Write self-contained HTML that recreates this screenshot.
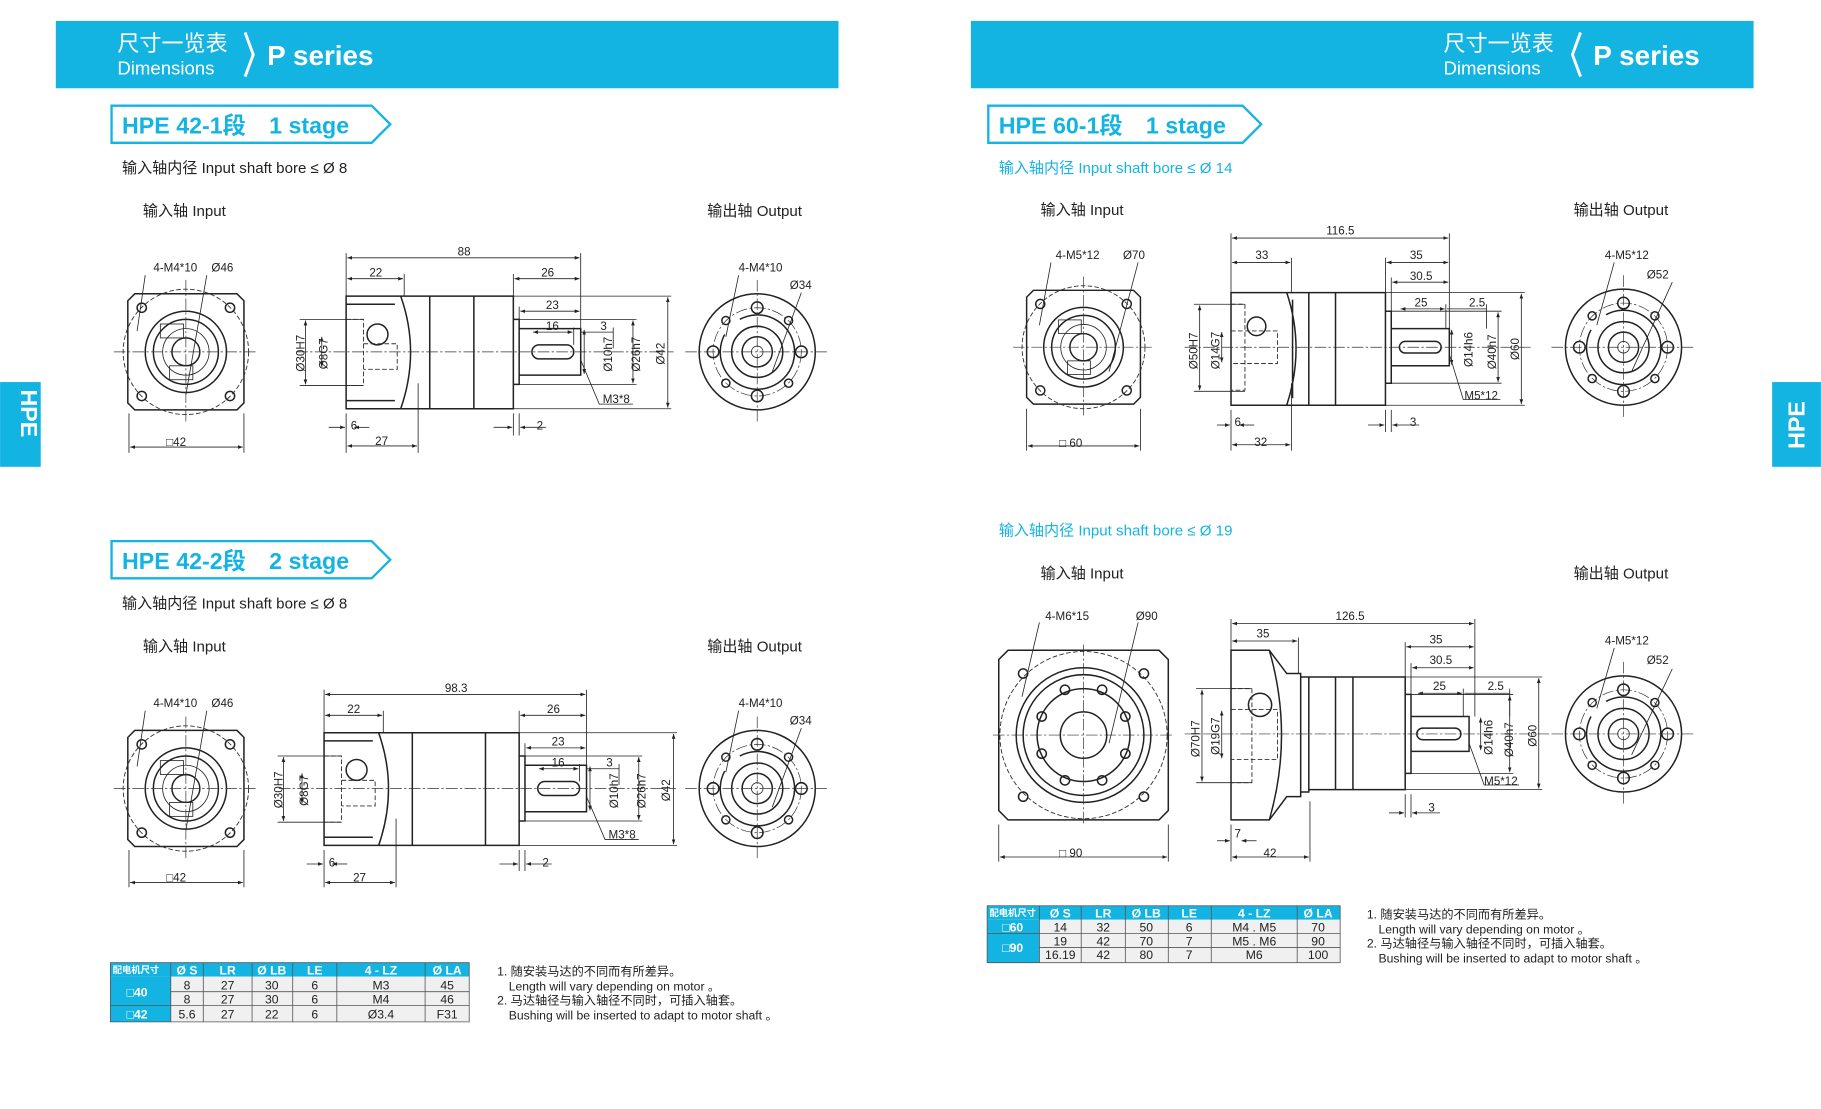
<!DOCTYPE html>
<html><head><meta charset="utf-8"><style>
html,body{margin:0;padding:0;background:#fff;}
svg{display:block;}
text{font-family:"Liberation Sans","Noto Sans CJK SC",sans-serif;fill:#222;}
.d{font-size:10px;}
.hd{fill:#fff;}
.ln{stroke:#222;stroke-width:1.3;fill:none;}
.th{stroke:#222;stroke-width:0.7;fill:none;}
.cl{stroke:#333;stroke-width:0.6;fill:none;stroke-dasharray:10 2 2 2;}
.ds{stroke:#333;stroke-width:0.8;fill:none;stroke-dasharray:4 2;}
</style></head><body>
<svg width="1821" height="1109" viewBox="0 0 1568 955" xmlns="http://www.w3.org/2000/svg">
<defs>
<marker id="a" viewBox="0 0 8 6" refX="8" refY="3" markerWidth="6" markerHeight="5" orient="auto-start-reverse"><path d="M0,0L8,3L0,6z" fill="#222"/></marker>
<symbol id="inp" viewBox="-50 -50 100 100" overflow="visible">
<path class="ln" d="M-44,-50H44L50,-44V44L44,50H-44L-50,44V-44Z"/>
<circle class="ds" r="54"/>
<circle class="ln" r="35"/><circle class="ln" r="28"/><circle class="ln" r="12"/>
<circle class="th" r="20"/>
<g class="ln"><circle cx="-38" cy="-38" r="4"/><circle cx="38" cy="-38" r="4"/><circle cx="-38" cy="38" r="4"/><circle cx="38" cy="38" r="4"/></g>
<rect class="th" x="-22" y="-24" width="20" height="12"/><rect class="th" x="-14" y="12" width="20" height="12"/>
<path class="cl" d="M-62,0H62M0,-62V62"/>
</symbol>
<symbol id="out" viewBox="-50 -50 100 100" overflow="visible">
<circle class="ln" r="50"/><circle class="cl" r="38"/>
<circle class="ln" r="22"/><circle class="ln" r="13"/><circle class="th" r="5"/>
<path class="ln" d="M-28,-15A32,32 0 1,0 -15,-28"/>
<g class="ln"><circle cx="-38" cy="0" r="5"/><circle cx="38" cy="0" r="5"/><circle cx="0" cy="-38" r="5"/><circle cx="0" cy="38" r="5"/>
<circle cx="-27" cy="-27" r="3.5"/><circle cx="27" cy="-27" r="3.5"/><circle cx="-27" cy="27" r="3.5"/><circle cx="27" cy="27" r="3.5"/></g>
<path class="cl" d="M-62,0H62M0,-62V62"/>
</symbol>
</defs>

<!-- headers -->
<rect x="48" y="18" width="674" height="58" fill="#14b4e2"/>
<text x="101" y="44" class="hd" font-size="19">尺寸一览表</text>
<text x="101" y="64" class="hd" font-size="16">Dimensions</text>
<path d="M211,28L218,47L211,66" stroke="#fff" stroke-width="2.5" fill="none"/>
<text x="230" y="56" class="hd" font-size="24" font-weight="bold">P series</text>
<rect x="836" y="18" width="674" height="58" fill="#14b4e2"/>
<text x="1243" y="44" class="hd" font-size="19">尺寸一览表</text>
<text x="1243" y="64" class="hd" font-size="16">Dimensions</text>
<path d="M1361,28L1354,47L1361,66" stroke="#fff" stroke-width="2.5" fill="none"/>
<text x="1372" y="56" class="hd" font-size="24" font-weight="bold">P series</text>
<rect x="0" y="329" width="35" height="73" fill="#14b4e2"/>
<text x="8" y="366" class="hd" font-size="20" font-weight="bold" transform="rotate(90 18 366)" text-anchor="middle">HPE</text>
<rect x="1526" y="329" width="42" height="73" fill="#14b4e2"/>
<text x="1547" y="366" class="hd" font-size="20" font-weight="bold" transform="rotate(-90 1547 366)" text-anchor="middle" dy="7">HPE</text>

<!-- section labels -->
<g fill="none" stroke="#14b4e2" stroke-width="2">
<path d="M96,91H320L336,107L320,123H96Z"/>
<path d="M96,466H320L336,482L320,498H96Z"/>
<path d="M851,91H1070L1086,107L1070,123H851Z"/>
</g>
<g font-size="20" font-weight="bold" style="fill:#14b4e2">
<text x="105" y="115" style="fill:#14b4e2">HPE 42-1段　1 stage</text>
<text x="105" y="490" style="fill:#14b4e2">HPE 42-2段　2 stage</text>
<text x="860" y="115" style="fill:#14b4e2">HPE 60-1段　1 stage</text>
</g>
<g font-size="13">
<text x="105" y="149">输入轴内径 Input shaft bore ≤ Ø 8</text>
<text x="123" y="186">输入轴  Input</text><text x="609" y="186">输出轴  Output</text>
<text x="105" y="524">输入轴内径 Input shaft bore ≤ Ø 8</text>
<text x="123" y="561">输入轴  Input</text><text x="609" y="561">输出轴  Output</text>
<text x="860" y="149" style="fill:#14b4e2">输入轴内径 Input shaft bore ≤ Ø 14</text>
<text x="896" y="185">输入轴  Input</text><text x="1355" y="185">输出轴  Output</text>
<text x="860" y="461" style="fill:#14b4e2">输入轴内径 Input shaft bore ≤ Ø 19</text>
<text x="896" y="498">输入轴  Input</text><text x="1355" y="498">输出轴  Output</text>
</g>

<!-- ===== Section 1 ===== -->
<use href="#inp" x="110" y="253" width="100" height="100"/>
<use href="#out" x="602" y="253" width="100" height="100"/>
<g class="th"><path d="M111,356V390M210,356V390"/><path d="M112,385H209" marker-start="url(#a)" marker-end="url(#a)"/>
<path d="M125,237L118,285M178,237L160,340"/><path d="M636,237L625,290M690,252L665,320"/></g>
<text class="d" x="143" y="384">□42</text><text class="d" x="132" y="234">4-M4*10</text><text class="d" x="182" y="234">Ø46</text>
<text class="d" x="636" y="234">4-M4*10</text><text class="d" x="680" y="249">Ø34</text>
<path class="ln" d="M298,255H442V352H298Z M345,255Q362,303 345,352 M370,255V352 M408,255V352 M442,275H447V331H442 M447,283H500V323H447"/>
<path class="ln" d="M298,262H340M298,345H340"/>
<rect class="ln" x="458" y="297" width="36" height="12" rx="6"/>
<circle class="ln" cx="325" cy="288" r="9"/>
<path class="ds" d="M298,275H313V332H298M313,296H342V318H313"/>
<path class="cl" d="M255,303H580"/>
<g class="th">
<path d="M298,218V255M500,218V283M348,236V255M442,236V255M447,264V275M494,282V297M528,282V300"/>
<path d="M299,222H499" marker-start="url(#a)" marker-end="url(#a)"/><path d="M299,240H347" marker-start="url(#a)" marker-end="url(#a)"/><path d="M443,240H499" marker-start="url(#a)" marker-end="url(#a)"/>
<path d="M448,268H499" marker-start="url(#a)" marker-end="url(#a)"/><path d="M459,286H493" marker-start="url(#a)" marker-end="url(#a)"/><path d="M500,286H528"/>
<path d="M263,276V331" marker-start="url(#a)" marker-end="url(#a)"/><path d="M277,290V316" marker-start="url(#a)" marker-end="url(#a)"/>
<path d="M258,275H313M258,332H313"/>
<path d="M503,284V322" marker-start="url(#a)" marker-end="url(#a)"/><path d="M545,276V330" marker-start="url(#a)" marker-end="url(#a)"/><path d="M575,256V351" marker-start="url(#a)" marker-end="url(#a)"/>
<path d="M447,275H548M447,331H548M442,255H578M442,352H578"/>
<path d="M500,310L516,348H545"/>
<path d="M298,356V390M360,330V390M442,356V375M447,356V375"/>
<path d="M283,368H297" marker-end="url(#a)"/><path d="M318,368H305" marker-end="url(#a)"/><path d="M299,384H359" marker-start="url(#a)" marker-end="url(#a)"/>
<path d="M425,368H441" marker-end="url(#a)"/><path d="M470,368H448" marker-end="url(#a)"/>
</g>
<g class="d"><text x="394" y="220">88</text><text x="318" y="238">22</text><text x="466" y="238">26</text><text x="470" y="266">23</text><text x="470" y="284">16</text><text x="517" y="284">3</text>
<text x="519" y="347">M3*8</text><text x="302" y="370">6</text><text x="323" y="383">27</text><text x="462" y="370">2</text>
<text transform="translate(262,320) rotate(-90)">Ø30H7</text><text transform="translate(282,318) rotate(-90)">Ø8G7</text>
<text transform="translate(527,320) rotate(-90)">Ø10h7</text><text transform="translate(551,320) rotate(-90)">Ø26h7</text><text transform="translate(572,314) rotate(-90)">Ø42</text></g>

<!-- ===== Section 2 ===== -->
<use href="#inp" x="110" y="629" width="100" height="100"/>
<use href="#out" x="602" y="629" width="100" height="100"/>
<g class="th"><path d="M111,732V764M210,732V764"/><path d="M112,760H209" marker-start="url(#a)" marker-end="url(#a)"/>
<path d="M125,612L118,660M178,612L160,715"/><path d="M636,612L625,665M690,627L665,695"/></g>
<text class="d" x="143" y="759">□42</text><text class="d" x="132" y="609">4-M4*10</text><text class="d" x="182" y="609">Ø46</text>
<text class="d" x="636" y="609">4-M4*10</text><text class="d" x="680" y="624">Ø34</text>
<path class="ln" d="M279,631H447V728H279Z M326,631Q343,679 326,728 M355,631V728 M418,631V728 M447,651H452V707H447 M452,659H505V699H452"/>
<path class="ln" d="M279,638H321M279,721H321"/>
<rect class="ln" x="463" y="673" width="36" height="12" rx="6"/>
<circle class="ln" cx="307" cy="663" r="9"/>
<path class="ds" d="M279,651H294V708H279M294,672H323V694H294"/>
<path class="cl" d="M240,679H582"/>
<g class="th">
<path d="M279,594V631M505,594V659M330,612V631M447,612V631M452,640V651M499,658V673M533,658V676"/>
<path d="M280,598H504" marker-start="url(#a)" marker-end="url(#a)"/><path d="M280,616H329" marker-start="url(#a)" marker-end="url(#a)"/><path d="M448,616H504" marker-start="url(#a)" marker-end="url(#a)"/>
<path d="M453,644H504" marker-start="url(#a)" marker-end="url(#a)"/><path d="M464,662H498" marker-start="url(#a)" marker-end="url(#a)"/><path d="M505,662H533"/>
<path d="M244,652V707" marker-start="url(#a)" marker-end="url(#a)"/><path d="M260,666V692" marker-start="url(#a)" marker-end="url(#a)"/>
<path d="M239,651H294M239,708H294"/>
<path d="M508,660V698" marker-start="url(#a)" marker-end="url(#a)"/><path d="M550,652V706" marker-start="url(#a)" marker-end="url(#a)"/><path d="M580,632V727" marker-start="url(#a)" marker-end="url(#a)"/>
<path d="M452,651H553M452,707H553M447,631H583M447,728H583"/>
<path d="M505,686L521,723H550"/>
<path d="M279,732V764M341,705V764M447,732V750M452,732V750"/>
<path d="M264,744H278" marker-end="url(#a)"/><path d="M299,744H286" marker-end="url(#a)"/><path d="M280,760H340" marker-start="url(#a)" marker-end="url(#a)"/>
<path d="M430,744H446" marker-end="url(#a)"/><path d="M475,744H453" marker-end="url(#a)"/>
</g>
<g class="d"><text x="383" y="596">98.3</text><text x="299" y="614">22</text><text x="471" y="614">26</text><text x="475" y="642">23</text><text x="475" y="660">16</text><text x="522" y="660">3</text>
<text x="524" y="722">M3*8</text><text x="283" y="746">6</text><text x="304" y="759">27</text><text x="467" y="746">2</text>
<text transform="translate(243,696) rotate(-90)">Ø30H7</text><text transform="translate(265,694) rotate(-90)">Ø8G7</text>
<text transform="translate(532,696) rotate(-90)">Ø10h7</text><text transform="translate(556,696) rotate(-90)">Ø26h7</text><text transform="translate(577,690) rotate(-90)">Ø42</text></g>

<!-- ===== Section 3 ===== -->
<use href="#inp" x="884" y="250" width="98" height="98"/>
<use href="#out" x="1348" y="249" width="100" height="100"/>
<g class="th"><path d="M884,352V388M982,352V388"/><path d="M885,384H981" marker-start="url(#a)" marker-end="url(#a)"/>
<path d="M905,226L895,280M980,226L955,320"/><path d="M1390,226L1375,280M1440,243L1405,320"/></g>
<text class="d" x="912" y="385">□ 60</text><text class="d" x="909" y="223">4-M5*12</text><text class="d" x="967" y="223">Ø70</text>
<text class="d" x="1382" y="223">4-M5*12</text><text class="d" x="1418" y="240">Ø52</text>
<path class="ln" d="M1060,252H1193V349H1060Z M1108,252Q1124,300 1108,349 M1113,258V343 M1127,252V349 M1150,252V349 M1193,268H1198V330H1193 M1198,283H1248V315H1198"/>
<rect class="ln" x="1205" y="294" width="36" height="10" rx="5"/>
<circle class="ln" cx="1082" cy="281" r="8"/>
<path class="ds" d="M1060,262H1072V336H1060M1060,285H1100V313H1060"/>
<path class="cl" d="M1020,299H1318"/>
<g class="th">
<path d="M1060,201V252M1248,201V283M1112,222V252M1193,222V268M1198,239V268M1245,262V283M1280,262V283"/>
<path d="M1061,205H1247" marker-start="url(#a)" marker-end="url(#a)"/><path d="M1061,226H1111" marker-start="url(#a)" marker-end="url(#a)"/><path d="M1194,226H1247" marker-start="url(#a)" marker-end="url(#a)"/>
<path d="M1199,243H1247" marker-start="url(#a)" marker-end="url(#a)"/><path d="M1206,266H1244" marker-start="url(#a)" marker-end="url(#a)"/><path d="M1246,266H1280"/>
<path d="M1033,263V336" marker-start="url(#a)" marker-end="url(#a)"/><path d="M1052,286V312" marker-start="url(#a)" marker-end="url(#a)"/>
<path d="M1028,262H1072M1028,337H1072"/>
<path d="M1250,284V314" marker-start="url(#a)" marker-end="url(#a)"/><path d="M1290,269V329" marker-start="url(#a)" marker-end="url(#a)"/><path d="M1310,253V348" marker-start="url(#a)" marker-end="url(#a)"/>
<path d="M1198,268H1293M1198,330H1293M1193,252H1313M1193,349H1313"/>
<path d="M1248,305L1260,344H1292"/>
<path d="M1060,353V388M1112,330V388M1193,353V372M1198,353V372"/>
<path d="M1048,366H1059" marker-end="url(#a)"/><path d="M1080,366H1067" marker-end="url(#a)"/><path d="M1061,383H1111" marker-start="url(#a)" marker-end="url(#a)"/>
<path d="M1178,366H1192" marker-end="url(#a)"/><path d="M1222,366H1199" marker-end="url(#a)"/>
</g>
<g class="d"><text x="1142" y="202">116.5</text><text x="1081" y="223">33</text><text x="1214" y="223">35</text><text x="1214" y="241">30.5</text><text x="1218" y="264">25</text><text x="1265" y="264">2.5</text>
<text x="1261" y="344">M5*12</text><text x="1063" y="367">6</text><text x="1080" y="384">32</text><text x="1214" y="367">3</text>
<text transform="translate(1031,318) rotate(-90)">Ø50H7</text><text transform="translate(1050,318) rotate(-90)">Ø14G7</text>
<text transform="translate(1268,316) rotate(-90)">Ø14h6</text><text transform="translate(1288,318) rotate(-90)">Ø40h7</text><text transform="translate(1308,310) rotate(-90)">Ø60</text></g>

<!-- ===== Section 4 ===== -->
<g>
<path class="ln" d="M868,560H998L1006,568V698L998,706H868L860,698V568Z"/>
<circle class="ds" cx="933" cy="633" r="72"/>
<circle class="ln" cx="933" cy="633" r="58"/><circle class="ln" cx="933" cy="633" r="52"/><circle class="ln" cx="933" cy="633" r="40"/><circle class="ln" cx="933" cy="633" r="20"/>
<g class="ln"><circle cx="881" cy="580" r="4"/><circle cx="985" cy="580" r="4"/><circle cx="881" cy="686" r="4"/><circle cx="985" cy="686" r="4"/>
<circle cx="917" cy="594" r="4"/><circle cx="949" cy="594" r="4"/><circle cx="917" cy="672" r="4"/><circle cx="949" cy="672" r="4"/><circle cx="897" cy="617" r="4"/><circle cx="969" cy="617" r="4"/><circle cx="897" cy="649" r="4"/><circle cx="969" cy="649" r="4"/></g>
<path class="cl" d="M855,633H1010M933,555V710"/>
</g>
<use href="#out" x="1348" y="582" width="100" height="100"/>
<g class="th"><path d="M860,710V742M1006,710V742"/><path d="M861,738H1005" marker-start="url(#a)" marker-end="url(#a)"/>
<path d="M895,536L880,600M980,536L955,640"/><path d="M1390,558L1375,610M1440,576L1405,650"/></g>
<text class="d" x="912" y="738">□ 90</text><text class="d" x="900" y="534">4-M6*15</text><text class="d" x="978" y="534">Ø90</text>
<text class="d" x="1382" y="555">4-M5*12</text><text class="d" x="1418" y="572">Ø52</text>
<path class="ln" d="M1060,560H1093L1108,580H1120V686H1108L1093,706H1060Z M1093,560Q1114,633 1093,706 M1120,583H1127V682H1120 M1127,583H1210V680H1127 M1150,583V680 M1165,583V680 M1210,598H1215V666H1210 M1215,617H1265V647H1215"/>
<rect class="ln" x="1220" y="627" width="38" height="10" rx="5"/>
<circle class="ln" cx="1085" cy="607" r="10"/>
<path class="ds" d="M1060,593H1078V674H1060M1060,611H1100V654H1060"/>
<path class="cl" d="M1020,632H1335"/>
<g class="th">
<path d="M1060,533V560M1270,533V617M1118,549V580M1210,553V598M1215,571V598M1260,593V617M1300,593V617"/>
<path d="M1061,537H1269" marker-start="url(#a)" marker-end="url(#a)"/><path d="M1061,552H1117" marker-start="url(#a)" marker-end="url(#a)"/><path d="M1211,557H1269" marker-start="url(#a)" marker-end="url(#a)"/>
<path d="M1216,575H1269" marker-start="url(#a)" marker-end="url(#a)"/><path d="M1221,597H1259" marker-start="url(#a)" marker-end="url(#a)"/><path d="M1261,597H1300"/>
<path d="M1035,594V673" marker-start="url(#a)" marker-end="url(#a)"/><path d="M1052,612V653" marker-start="url(#a)" marker-end="url(#a)"/>
<path d="M1030,593H1078M1030,674H1078"/>
<path d="M1275,618V646" marker-start="url(#a)" marker-end="url(#a)"/><path d="M1300,599V665" marker-start="url(#a)" marker-end="url(#a)"/><path d="M1325,584V679" marker-start="url(#a)" marker-end="url(#a)"/>
<path d="M1215,598H1303M1215,666H1303M1210,583H1328M1210,680H1328"/>
<path d="M1265,640L1278,676H1308"/>
<path d="M1060,710V742M1128,690V742M1210,684V704M1215,684V704"/>
<path d="M1048,724H1059" marker-end="url(#a)"/><path d="M1082,724H1069" marker-end="url(#a)"/><path d="M1061,738H1127" marker-start="url(#a)" marker-end="url(#a)"/>
<path d="M1196,700H1209" marker-end="url(#a)"/><path d="M1240,700H1216" marker-end="url(#a)"/>
</g>
<g class="d"><text x="1150" y="534">126.5</text><text x="1082" y="549">35</text><text x="1231" y="554">35</text><text x="1231" y="572">30.5</text><text x="1234" y="594">25</text><text x="1281" y="594">2.5</text>
<text x="1278" y="676">M5*12</text><text x="1063" y="721">7</text><text x="1088" y="738">42</text><text x="1230" y="699">3</text>
<text transform="translate(1033,652) rotate(-90)">Ø70H7</text><text transform="translate(1050,650) rotate(-90)">Ø19G7</text>
<text transform="translate(1285,650) rotate(-90)">Ø14h6</text><text transform="translate(1303,652) rotate(-90)">Ø40h7</text><text transform="translate(1323,643) rotate(-90)">Ø60</text></g>

<!-- ===== Left table ===== -->
<g font-size="10.5" text-anchor="middle">
<rect x="95" y="829" width="309" height="12" fill="#14b4e2"/>
<rect x="95" y="841" width="52" height="39" fill="#14b4e2"/>
<rect x="147" y="841" width="257" height="39" fill="#f0f0f0"/>
<g class="th" style="stroke:#555"><path d="M95,829H404V880H95Z M147,854H404M95,866H404M147,829V880M175,829V880M217,829V880M252,829V880M290,829V880M366,829V880"/></g>
<g class="hd" style="font-weight:bold"><text x="117" y="838" font-size="8" class="hd">配电机尺寸</text><text x="161" y="839" class="hd">Ø S</text><text x="196" y="839" class="hd">LR</text><text x="234" y="839" class="hd">Ø LB</text><text x="271" y="839" class="hd">LE</text><text x="328" y="839" class="hd">4 - LZ</text><text x="385" y="839" class="hd">Ø LA</text>
<text x="118" y="858" class="hd">□40</text><text x="118" y="877" class="hd">□42</text></g>
<text x="161" y="852">8</text><text x="196" y="852">27</text><text x="234" y="852">30</text><text x="271" y="852">6</text><text x="328" y="852">M3</text><text x="385" y="852">45</text>
<text x="161" y="864">8</text><text x="196" y="864">27</text><text x="234" y="864">30</text><text x="271" y="864">6</text><text x="328" y="864">M4</text><text x="385" y="864">46</text>
<text x="161" y="877">5.6</text><text x="196" y="877">27</text><text x="234" y="877">22</text><text x="271" y="877">6</text><text x="328" y="877">Ø3.4</text><text x="385" y="877">F31</text>
</g>
<g font-size="10.5"><text x="428" y="840">1. 随安装马达的不同而有所差异。</text><text x="438" y="853">Length will vary depending on motor 。</text>
<text x="428" y="865">2. 马达轴径与输入轴径不同时，可插入轴套。</text><text x="438" y="878">Bushing will be inserted to adapt to motor shaft 。</text></g>

<!-- ===== Right table ===== -->
<g font-size="10.5" text-anchor="middle">
<rect x="850" y="780" width="304" height="12" fill="#14b4e2"/>
<rect x="850" y="792" width="45" height="37" fill="#14b4e2"/>
<rect x="895" y="792" width="259" height="37" fill="#f0f0f0"/>
<g class="th" style="stroke:#555"><path d="M850,780H1154V829H850Z M850,804H1154M895,816H1154M895,780V829M931,780V829M969,780V829M1006,780V829M1043,780V829M1117,780V829"/></g>
<g style="font-weight:bold"><text x="872" y="789" font-size="8" class="hd">配电机尺寸</text><text x="913" y="790" class="hd">Ø S</text><text x="950" y="790" class="hd">LR</text><text x="987" y="790" class="hd">Ø LB</text><text x="1024" y="790" class="hd">LE</text><text x="1080" y="790" class="hd">4 - LZ</text><text x="1135" y="790" class="hd">Ø LA</text>
<text x="872" y="802" class="hd">□60</text><text x="872" y="820" class="hd">□90</text></g>
<text x="913" y="802">14</text><text x="950" y="802">32</text><text x="987" y="802">50</text><text x="1024" y="802">6</text><text x="1080" y="802">M4 . M5</text><text x="1135" y="802">70</text>
<text x="913" y="814">19</text><text x="950" y="814">42</text><text x="987" y="814">70</text><text x="1024" y="814">7</text><text x="1080" y="814">M5 . M6</text><text x="1135" y="814">90</text>
<text x="913" y="826">16.19</text><text x="950" y="826">42</text><text x="987" y="826">80</text><text x="1024" y="826">7</text><text x="1080" y="826">M6</text><text x="1135" y="826">100</text>
</g>
<g font-size="10.5"><text x="1177" y="791">1. 随安装马达的不同而有所差异。</text><text x="1187" y="804">Length will vary depending on motor 。</text>
<text x="1177" y="816">2. 马达轴径与输入轴径不同时，可插入轴套。</text><text x="1187" y="829">Bushing will be inserted to adapt to motor shaft 。</text></g>
</svg>
</body></html>
